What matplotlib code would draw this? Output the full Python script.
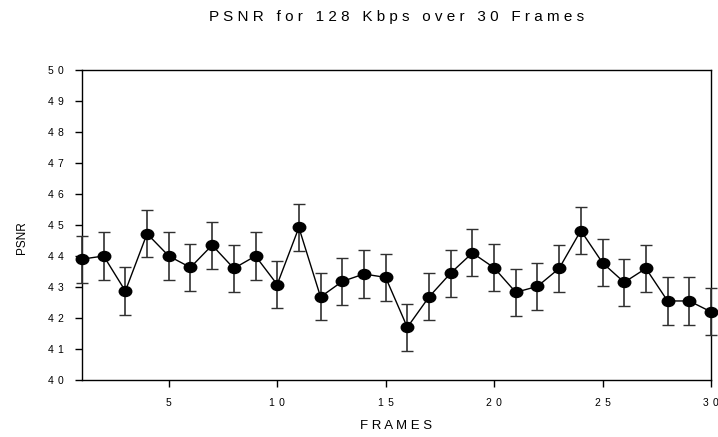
import matplotlib
matplotlib.use("Agg")
import matplotlib.pyplot as plt
from matplotlib.path import Path
from matplotlib.transforms import Affine2D
import numpy as np

plt.rcParams['font.family'] = ['Liberation Sans', 'DejaVu Sans']

# dane
frames = list(range(1, 31))
psnr = [43.9, 44.0, 42.87, 44.72, 44.0, 43.63, 44.35, 43.6, 44.0, 43.08,
        44.92, 42.68, 43.18, 43.42, 43.31, 41.7, 42.68, 43.45, 44.1, 43.62,
        42.83, 43.02, 43.6, 44.82, 43.78, 43.15, 43.6, 42.55, 42.55, 42.2]
err = [0.76] * 30
xticks = [5, 10, 15, 20, 25, 30]
yticks = [40, 41, 42, 43, 44, 45, 46, 47, 48, 49, 50]

def spaced(s, gap=' ', wgap='   '):
    # rozstrzelony tekst jak w oryginale
    return wgap.join(gap.join(w) for w in s.split(' '))

# lekko spłaszczone kółko jako marker
ellipse = Path.unit_circle().transformed(Affine2D().scale(1.0, 0.8))

fig = plt.figure(figsize=(7.18, 4.37), dpi=100)
ax = fig.add_axes([0.1142, 0.1304, 0.8760, 0.7094])

ax.errorbar(frames, psnr, yerr=err, fmt='-', marker=ellipse, color='black',
            ecolor='#303030', elinewidth=1.2, capsize=4, capthick=1.0,
            markersize=9, linewidth=1.0, clip_on=False, zorder=3)

ax.set_xlim(1, 30)
ax.set_ylim(40, 50)
ax.set_xticks(xticks)
ax.set_xticklabels([spaced(str(v), '\u2009\u2009') for v in xticks])
ax.set_yticks(yticks)
ax.set_yticklabels([spaced(str(v), '\u2009\u2009') for v in yticks])
ax.tick_params(direction='out', length=5, width=1, labelsize=7.5,
               top=False, right=False)
ax.tick_params(axis='y', pad=8)
ax.tick_params(axis='x', pad=8)
for s in ax.spines.values():
    s.set_linewidth(1.0)

ax.set_xlabel(spaced('FRAMES'), fontsize=9.5)
ax.xaxis.set_label_coords(0.5, -0.128)
ax.set_ylabel('PSNR', fontsize=8.5)
ax.yaxis.set_label_coords(-0.086, 0.458)
fig.text(0.552, 0.961, spaced('PSNR for 128 Kbps over 30 Frames'),
         ha='center', va='center', fontsize=11)

plt.savefig('out.png', dpi=100)
